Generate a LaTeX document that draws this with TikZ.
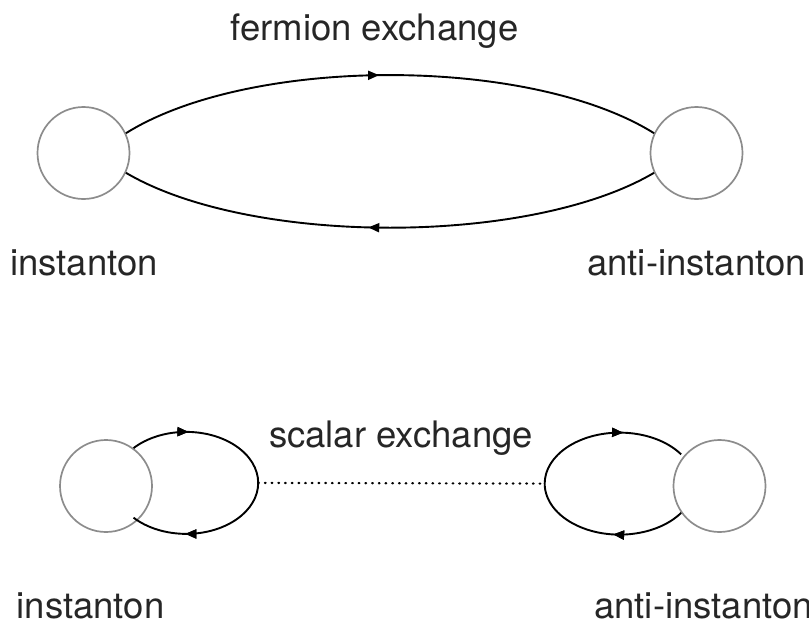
\documentclass[tikz,border=0pt]{standalone}
\usepackage{fontspec}
\setmainfont{TeX Gyre Heros}
\usetikzlibrary{arrows.meta,decorations.markings}
\begin{document}
\begin{tikzpicture}[x=1pt,y=1pt,
  inst/.style={circle,draw=black!45,line width=1.7pt,minimum size=92pt,inner sep=0pt},
  lbl/.style={inner sep=0pt,text=black!85,font=\fontsize{36.5}{40}\selectfont},
  prop/.style={line width=1.9pt,black},
  arrowat/.style={postaction={decorate},decoration={markings,
      mark=at position #1 with {\arrow{Triangle[length=11pt,width=9pt]}}}},
  dotline/.style={line width=2.2pt,black,line cap=round,dash pattern=on 0.8pt off 5.9pt}
  ]
\useasboundingbox (0,0) rectangle (809,-624);

% top diagram
\node[inst] (I1) at (83.5,-153) {};
\node[inst] (A1) at (696.5,-153) {};
\node[lbl,anchor=base] (t1) at (374.5,-40) {fermion exchange};
\node[lbl,anchor=base] (l1) at (84,-275) {instanton};
\node[lbl,anchor=base] (l2) at (696.5,-275) {anti-instanton};

\draw[prop,arrowat=0.48] (I1.25) .. controls (250,-55.7) and (530,-55.7) .. (A1.155);
\draw[prop,arrowat=0.54] (A1.205) .. controls (530,-246) and (250,-246) .. (I1.-25);

% bottom diagram
\node[inst] (I2) at (106,-486) {};
\node[inst] (A2) at (719.5,-486) {};
\node[lbl,anchor=base] (t2) at (401,-447) {scalar exchange};
\node[lbl,anchor=base] (l3) at (90.5,-618) {instanton};
\node[lbl,anchor=base west] (l4) at (594,-618) {anti-instanton};

\draw[prop,arrowat=0.19,postaction={decorate},decoration={markings,
      mark=at position 0.82 with {\arrow{Triangle[length=11pt,width=9pt]}}}]
  (I2.54) arc[start angle=137,end angle=0,x radius=72,y radius=51]
  coordinate (le)
  arc[start angle=0,end angle=-137,x radius=72,y radius=51];

\draw[prop,arrowat=0.22,postaction={decorate},decoration={markings,
      mark=at position 0.81 with {\arrow{Triangle[length=11pt,width=9pt]}}}]
  (A2.215) arc[start angle=-35,end angle=-180,x radius=75,y radius=51]
  coordinate (re)
  arc[start angle=-180,end angle=-325,x radius=75,y radius=51];

\draw[dotline] (le) -- (re);
\end{tikzpicture}
\end{document}
